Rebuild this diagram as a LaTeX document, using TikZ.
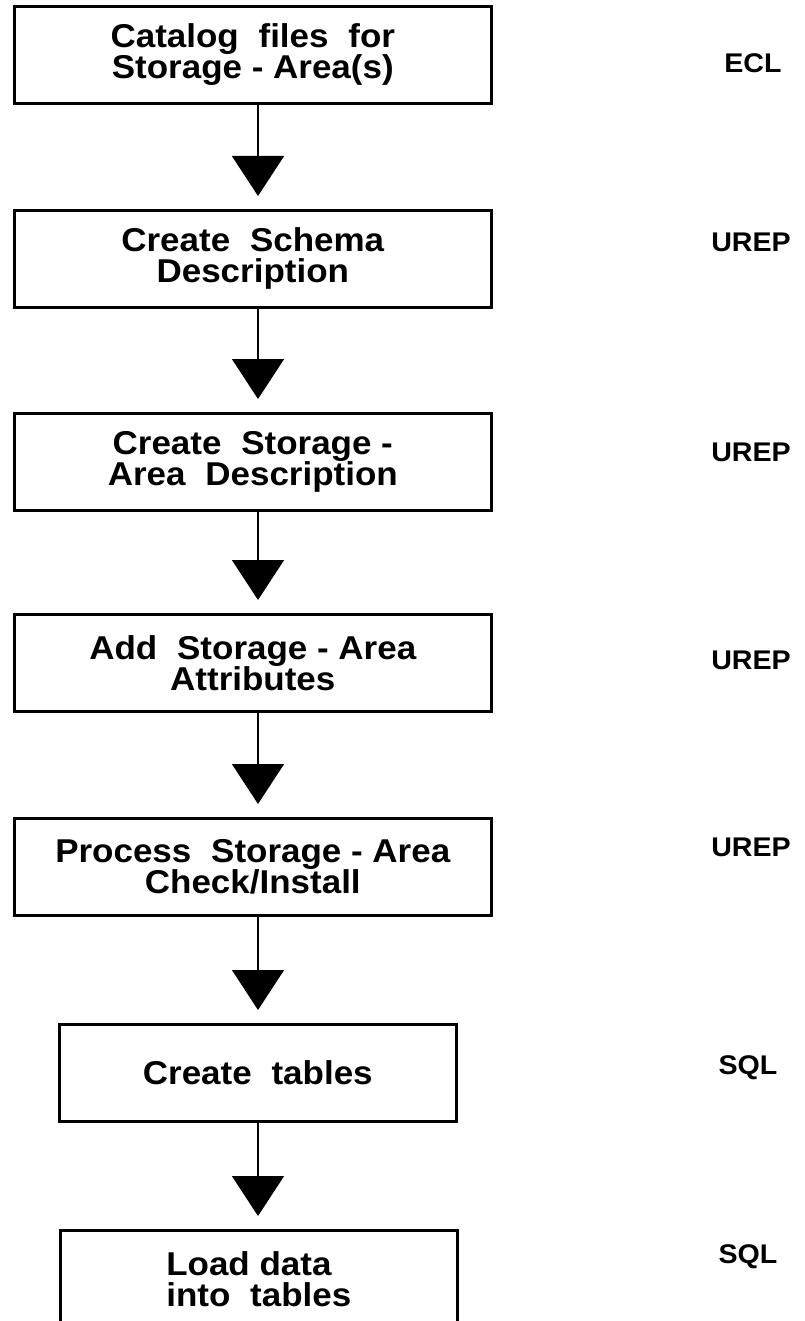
\documentclass[tikz,border=0pt]{standalone}
\usepackage{fontspec}
\setmainfont{Liberation Sans}[FakeStretch=1.06]
\usetikzlibrary{arrows.meta}
% wide gap between words inside the step boxes
\newcommand{\wgap}{\hspace{0.6em}}

\begin{document}
\begin{tikzpicture}[x=1pt,y=-1pt,
  stepbox/.style={draw, line width=2.6pt, anchor=north west, inner sep=0pt,
    minimum width=477pt, minimum height=97pt, align=center,
    font=\bfseries\fontsize{33}{31}\selectfont},
  narrowbox/.style={stepbox, minimum width=397pt},
  tool/.style={font=\bfseries\fontsize{27}{27}\selectfont, anchor=center},
  flow/.style={line width=1.4pt, shorten >=13pt,
    -{Triangle[width=52pt,length=40pt]}}
]
\clip (0,0) rectangle (804,1321);
\fill[white] (0,0) rectangle (804,1321);

% process steps
\node[stepbox] (b1) at (13,5)    {Catalog\wgap files\wgap for\\Storage - Area(s)};
\node[stepbox] (b2) at (13,209)  {Create\wgap Schema\\Description};
\node[stepbox] (b3) at (13,412)  {Create\wgap Storage -\\Area\wgap Description};
\node[stepbox] (b4) at (13,613)  {Add\wgap Storage - Area\\Attributes};
\node[stepbox] (b5) at (13,817)  {Process\wgap Storage - Area\\Check/Install};
\node[narrowbox] (b6) at (58,1023) {Create\wgap tables};
\node[narrowbox, align=left] (b7) at (59,1229) {Load data\\into\wgap tables};

% tool used for each step
\node[tool] (t1) at (753,63)   {ECL};
\node[tool] (t2) at (751,242)  {UREP};
\node[tool] (t3) at (751,452)  {UREP};
\node[tool] (t4) at (751,660)  {UREP};
\node[tool] (t5) at (751,847)  {UREP};
\node[tool] (t6) at (748,1068) {SQL};
\node[tool] (t7) at (748,1257) {SQL};

% connectors run down a common vertical
\coordinate (ax) at (258,0);
\draw[flow] (b1.south -| ax) -- (b2.north -| ax);
\draw[flow] (b2.south -| ax) -- (b3.north -| ax);
\draw[flow] (b3.south -| ax) -- (b4.north -| ax);
\draw[flow] (b4.south -| ax) -- (b5.north -| ax);
\draw[flow] (b5.south -| ax) -- (b6.north -| ax);
\draw[flow] (b6.south -| ax) -- (b7.north -| ax);
\end{tikzpicture}
\end{document}
